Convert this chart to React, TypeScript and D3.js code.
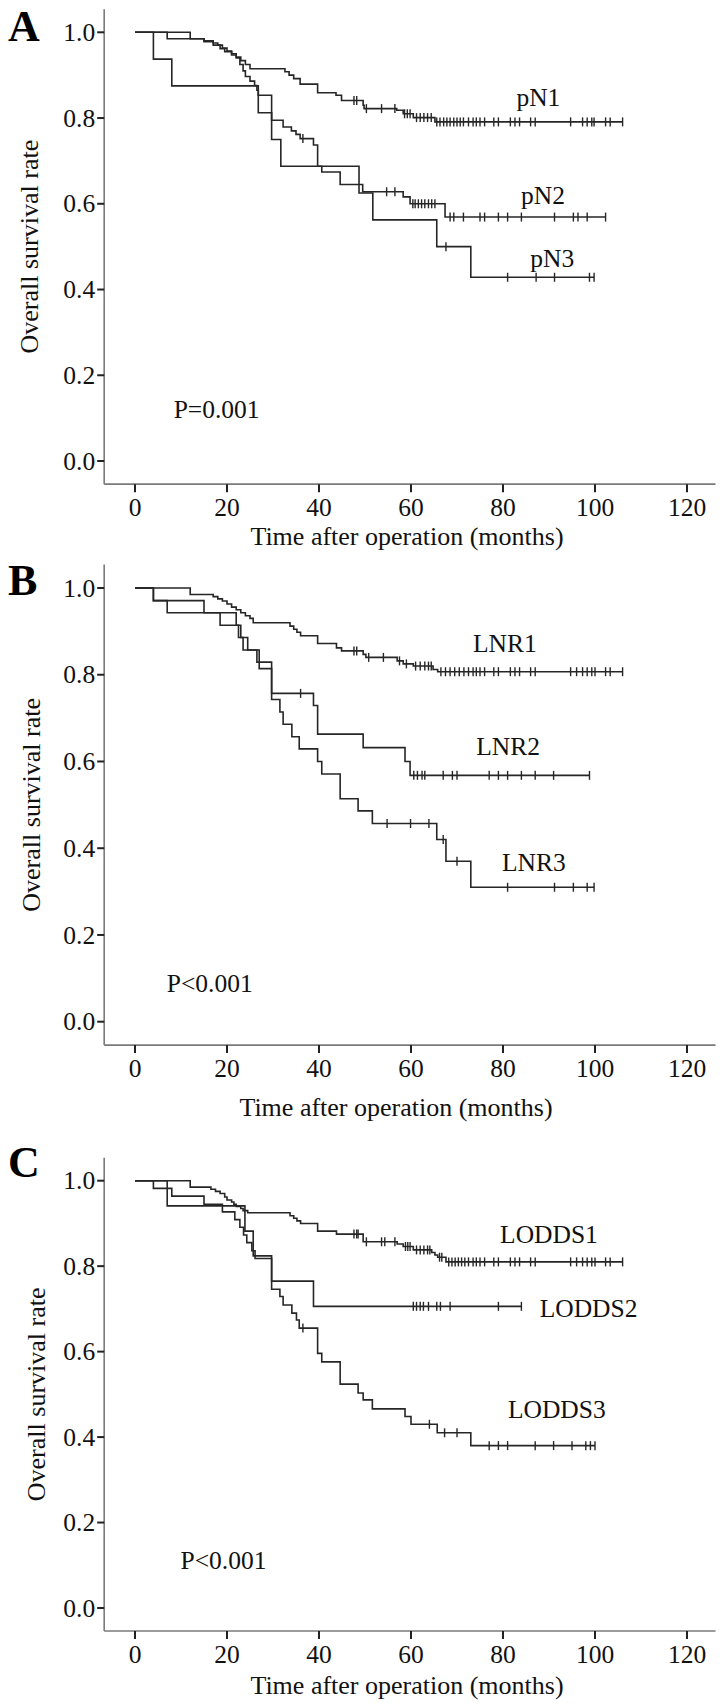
import React from 'react';
import * as d3 from 'd3';

type Step = [number, number];

// ---------- axis ticks / texts ----------
const xTicks = [0, 20, 40, 60, 80, 100, 120];
const yTicks = [0, 0.2, 0.4, 0.6, 0.8, 1.0];
const panelLetters = ['A', 'B', 'C'];
const pValueTexts = ['P=0.001', 'P<0.001', 'P<0.001'];
const yTitleText = 'Overall survival rate';
const xTitleText = 'Time after operation (months)';

// ---------- Panel A (pN) ----------
const pN1Steps: Step[] = [
  [12, 0.985], [15, 0.98], [17, 0.975], [18, 0.97], [19, 0.963], [20, 0.956], [21, 0.95],
  [22, 0.942], [23, 0.934], [24, 0.925], [25, 0.915], [32.6, 0.908], [33.5, 0.9], [34.5, 0.892],
  [35.9, 0.879], [39.7, 0.859], [43.7, 0.853], [44.9, 0.841], [49.6, 0.83], [49.8, 0.822],
  [56.9, 0.818], [58.3, 0.81], [60.5, 0.801], [65.2, 0.791],
];
const pN1Censor = [
  47.6, 48.2, 50.3, 53.6, 56.5, 58.6, 59.2, 59.8, 61.2, 62, 62.8, 63.6, 64.4, 65.6, 66.3, 67.1,
  67.8, 68.5, 69.3, 70, 70.7, 71.4, 72.5, 73.5, 74.2, 75, 76, 78, 79, 81.6, 82.6, 83.6, 86, 87,
  94.7, 97.3, 98.3, 99.3, 99.8, 102.3, 103.3, 106,
];
const pN2Steps: Step[] = [
  [7, 0.985], [15, 0.978], [17, 0.97], [18.5, 0.962], [19.5, 0.955], [21, 0.947], [22, 0.94],
  [22.8, 0.925], [23.5, 0.91], [24, 0.897], [25, 0.886], [26, 0.876], [26.5, 0.865], [26.8, 0.853],
  [29.7, 0.795], [32.2, 0.779], [34, 0.77], [35, 0.762], [35.9, 0.752], [38.8, 0.737],
  [39.7, 0.6876], [40.6, 0.674], [44.6, 0.645], [49.5, 0.628], [58.3, 0.616], [59.8, 0.6],
  [67.4, 0.569],
];
const pN2Censor = [
  36.5, 54.7, 56.5, 60.4, 60.9, 61.6, 62.3, 63, 63.8, 64.5, 65.2, 68.5, 69.3, 71.4, 75, 76, 79,
  81, 84, 91.2, 95.3, 96.3, 98.3, 102.3,
];
const pN3Steps: Step[] = [
  [4, 0.9375], [8, 0.875], [26.8, 0.8125], [29.7, 0.75], [31.7, 0.6875], [48.7, 0.625],
  [51.7, 0.5625], [65.6, 0.5], [73, 0.4286],
];
const pN3Censor = [67.6, 81, 87.2, 91.2, 98.8, 99.8];

// ---------- Panel B (LNR) ----------
const lnr1Steps: Step[] = [
  [12, 0.985], [17, 0.98], [18, 0.975], [19, 0.97], [20, 0.963], [21, 0.956], [22, 0.95],
  [23, 0.943], [24, 0.936], [25, 0.93], [25.7, 0.92], [33.7, 0.912], [34.5, 0.905], [35.2, 0.898],
  [36, 0.89], [39.7, 0.872], [43.8, 0.862], [44.9, 0.855], [49.6, 0.847], [50.2, 0.84],
  [57, 0.832], [58.3, 0.825], [60.5, 0.82], [64.8, 0.812], [65.8, 0.807],
];
const lnr1Censor = [
  47.6, 48.2, 50.8, 54, 57.5, 59, 61, 62, 63, 63.8, 64.4, 66.5, 67.5, 68.5, 69.5, 70.5, 71.5,
  72.5, 73.5, 74.2, 75, 76, 78, 79, 81.6, 82.6, 83.6, 86, 87, 94.7, 96, 97.3, 98.3, 99.3, 100,
  102.3, 103.3, 106,
];
const lnr2Steps: Step[] = [
  [4, 0.971], [15, 0.943], [22, 0.914], [23, 0.886], [24.5, 0.857], [27, 0.829], [29.7, 0.757],
  [38.8, 0.729], [39.7, 0.663], [49.6, 0.632], [58.7, 0.6], [59.8, 0.568],
];
const lnr2Censor = [36, 60.6, 61.4, 62.4, 63, 67, 69, 70, 77, 79, 81, 84, 87, 91, 98.8];
const lnr3Steps: Step[] = [
  [4, 0.971], [7, 0.943], [18.5, 0.914], [22.5, 0.886], [23.5, 0.857], [26.5, 0.829],
  [27, 0.814], [29.7, 0.743], [31.5, 0.714], [32.2, 0.686], [34.1, 0.657], [35.7, 0.629],
  [39.7, 0.6], [40.6, 0.571], [44.6, 0.514], [48.5, 0.486], [51.6, 0.457], [65.6, 0.42],
  [67.6, 0.37], [73, 0.31],
];
const lnr3Censor = [54.8, 59.9, 63.9, 67, 70, 81, 91.2, 95.3, 98.3, 99.8];

// ---------- Panel C (LODDS) ----------
const lodds1Steps: Step[] = [
  [12, 0.985], [16.5, 0.98], [17.5, 0.975], [18.5, 0.97], [19.5, 0.962], [20, 0.955], [21, 0.95],
  [21.5, 0.945], [22, 0.94], [23, 0.935], [23.5, 0.93], [24.5, 0.925], [33.7, 0.918],
  [34.5, 0.912], [35.2, 0.906], [36, 0.9], [39.7, 0.882], [43.8, 0.875], [49.6, 0.857],
  [57, 0.852], [58.3, 0.846], [60.5, 0.838], [64.5, 0.832], [65.2, 0.826], [65.8, 0.821],
  [67.6, 0.81],
];
const lodds1Censor = [
  47.6, 48.2, 48.5, 50.3, 53.6, 54.3, 56.5, 58.8, 59.3, 59.8, 61.2, 62, 62.8, 63.6, 64.1, 66.2,
  66.7, 68.2, 68.9, 69.6, 70.3, 71, 71.7, 72.5, 73.5, 74.2, 75, 76, 78, 79, 81.6, 82.6, 83.6, 86,
  87, 94.7, 96, 97.3, 98.3, 99.3, 100, 102.3, 103.3, 106,
];
const lodds2Steps: Step[] = [[7, 0.941], [23.9, 0.882], [25.7, 0.824], [29.7, 0.765], [38.8, 0.706]];
const lodds2Censor = [60.5, 61.2, 62, 62.7, 63.8, 65.6, 66.4, 68.5, 79, 84];
const lodds3Steps: Step[] = [
  [4, 0.982], [8, 0.964], [15, 0.945], [19, 0.927], [21.7, 0.909], [22.8, 0.891], [23.6, 0.873],
  [24.3, 0.855], [25.4, 0.836], [26.1, 0.818], [29.7, 0.746], [31.5, 0.729], [32.2, 0.709],
  [34.1, 0.69], [35.1, 0.674], [35.7, 0.655], [39.7, 0.596], [40.6, 0.576], [44.6, 0.524],
  [48.5, 0.503], [49.6, 0.487], [51.6, 0.466], [58.7, 0.448], [60, 0.43], [65.7, 0.41], [73, 0.38],
];
const lodds3Censor = [36.5, 64, 67.3, 70, 77, 79, 81, 87, 91, 95, 98, 99, 100];

// ---------- curve labels (name, month, survival of label centre) ----------
const namesA = ['pN1', 'pN2', 'pN3'];
const namesB = ['LNR1', 'LNR2', 'LNR3'];
const namesC = ['LODDS1', 'LODDS2', 'LODDS3'];
const labelPosA: Step[] = [[87.7, 0.846], [88.7, 0.617], [90.7, 0.471]];
const labelPosB: Step[] = [[80.4, 0.87], [81.1, 0.633], [86.7, 0.365]];
const labelPosC: Step[] = [[90, 0.873], [98.6, 0.7], [91.7, 0.462]];
const pValuePos: Step[] = [[8.4, 0.12], [6.9, 0.089], [9.9, 0.112]];

// ---------- layout ----------
const FONT = '"Liberation Serif", "Times New Roman", Times, serif';
const LINE = '#262626';
const AXIS = '#7a7a7a';

interface Curve { steps: Step[]; censor: number[] }
interface Panel {
  letter: string; pText: string; pPos: Step;
  curves: Curve[]; names: string[]; labelPos: Step[];
  y1: number; y0: number; xTitleY: number; letterY: number; yTitleX: number; xTitleX: number;
}

const panels: Panel[] = [
  {
    letter: panelLetters[0], pText: pValueTexts[0], pPos: pValuePos[0],
    curves: [
      { steps: pN1Steps, censor: pN1Censor },
      { steps: pN2Steps, censor: pN2Censor },
      { steps: pN3Steps, censor: pN3Censor },
    ],
    names: namesA, labelPos: labelPosA,
    y1: 32.3, y0: 461, xTitleY: 536, letterY: 41, yTitleX: 29, xTitleX: 407,
  },
  {
    letter: panelLetters[1], pText: pValueTexts[1], pPos: pValuePos[1],
    curves: [
      { steps: lnr1Steps, censor: lnr1Censor },
      { steps: lnr2Steps, censor: lnr2Censor },
      { steps: lnr3Steps, censor: lnr3Censor },
    ],
    names: namesB, labelPos: labelPosB,
    y1: 588, y0: 1021.7, xTitleY: 1107, letterY: 595, yTitleX: 31, xTitleX: 396,
  },
  {
    letter: panelLetters[2], pText: pValueTexts[2], pPos: pValuePos[2],
    curves: [
      { steps: lodds1Steps, censor: lodds1Censor },
      { steps: lodds2Steps, censor: lodds2Censor },
      { steps: lodds3Steps, censor: lodds3Censor },
    ],
    names: namesC, labelPos: labelPosC,
    y1: 1180.7, y0: 1608, xTitleY: 1685, letterY: 1177, yTitleX: 36, xTitleX: 407,
  },
];

const x = d3.scaleLinear().domain([0, 120]).range([135, 687]);
const X_MIN = -6.7;
const X_MAX = 126.2;
const Y_PAD = 0.054;

function survAt(steps: Step[], t: number): number {
  let s = 1;
  for (const [ti, si] of steps) if (ti <= t) s = si;
  return s;
}

function PanelView({ p }: { p: Panel }) {
  const y = d3.scaleLinear().domain([0, 1]).range([p.y0, p.y1]);
  const axisLeftX = x(X_MIN);
  const axisBottomY = y(-Y_PAD);
  const fmt = d3.format('.1f');
  const yMid = (y(-Y_PAD) + y(1 + Y_PAD)) / 2;

  return (
    <g>
      <text x={8} y={p.letterY} fontFamily={FONT} fontWeight="bold" fontSize={44} fill="#000">
        {p.letter}
      </text>

      <line x1={axisLeftX} x2={axisLeftX} y1={y(1 + Y_PAD)} y2={axisBottomY} stroke={AXIS} strokeWidth={1.6} />
      <line x1={axisLeftX} x2={x(X_MAX)} y1={axisBottomY} y2={axisBottomY} stroke={AXIS} strokeWidth={1.6} />

      {yTicks.map((t) => (
        <g key={'y' + t}>
          <line x1={axisLeftX - 7} x2={axisLeftX} y1={y(t)} y2={y(t)} stroke="#222" strokeWidth={2} />
          <text x={axisLeftX - 9} y={y(t)} dy="0.34em" textAnchor="end" fontFamily={FONT} fontSize={25.5} fill="#111">
            {fmt(t)}
          </text>
        </g>
      ))}

      {xTicks.map((t) => (
        <g key={'x' + t}>
          <line x1={x(t)} x2={x(t)} y1={axisBottomY} y2={axisBottomY + 8} stroke="#222" strokeWidth={2} />
          <text x={x(t)} y={axisBottomY + 23} dy="0.34em" textAnchor="middle" fontFamily={FONT} fontSize={25.5} fill="#111">
            {t}
          </text>
        </g>
      ))}

      <text
        transform={`translate(${p.yTitleX},${yMid}) rotate(-90)`}
        dy="0.34em" textAnchor="middle" fontFamily={FONT} fontSize={26} fill="#111"
      >
        {yTitleText}
      </text>
      <text x={p.xTitleX} y={p.xTitleY} dy="0.34em" textAnchor="middle" fontFamily={FONT} fontSize={26} fill="#111">
        {xTitleText}
      </text>

      {p.curves.map((c, i) => {
        const end = Math.max(d3.max(c.censor) ?? 0, c.steps[c.steps.length - 1][0]);
        const last = c.steps[c.steps.length - 1][1];
        const pts: Step[] = [[0, 1], ...c.steps, [end, last]];
        const line = d3
          .line<Step>()
          .x((d) => x(d[0]))
          .y((d) => y(d[1]))
          .curve(d3.curveStepAfter);
        return (
          <g key={'c' + i}>
            <path d={line(pts) ?? ''} fill="none" stroke={LINE} strokeWidth={1.6} />
            {c.censor.map((t, j) => (
              <line
                key={j}
                x1={x(t)} x2={x(t)}
                y1={y(survAt(c.steps, t)) - 4.5}
                y2={y(survAt(c.steps, t)) + 4.5}
                stroke={LINE} strokeWidth={1.4}
              />
            ))}
          </g>
        );
      })}

      {p.names.map((n, i) => (
        <text
          key={n}
          x={x(p.labelPos[i][0])} y={y(p.labelPos[i][1])} dy="0.3em"
          textAnchor="middle" fontFamily={FONT} fontSize={25.5} fill="#111"
        >
          {n}
        </text>
      ))}

      <text x={x(p.pPos[0])} y={y(p.pPos[1])} dy="0.34em" fontFamily={FONT} fontSize={25.5} fill="#111">
        {p.pText}
      </text>
    </g>
  );
}

export default function App() {
  return (
    <svg
      width={724}
      height={1708}
      viewBox="0 0 724 1708"
      style={{ position: 'absolute', left: 0, top: 0, background: '#fff' }}
    >
      <rect x={0} y={0} width={724} height={1708} fill="#fff" />
      {panels.map((p) => (
        <PanelView key={p.letter} p={p} />
      ))}
    </svg>
  );
}
